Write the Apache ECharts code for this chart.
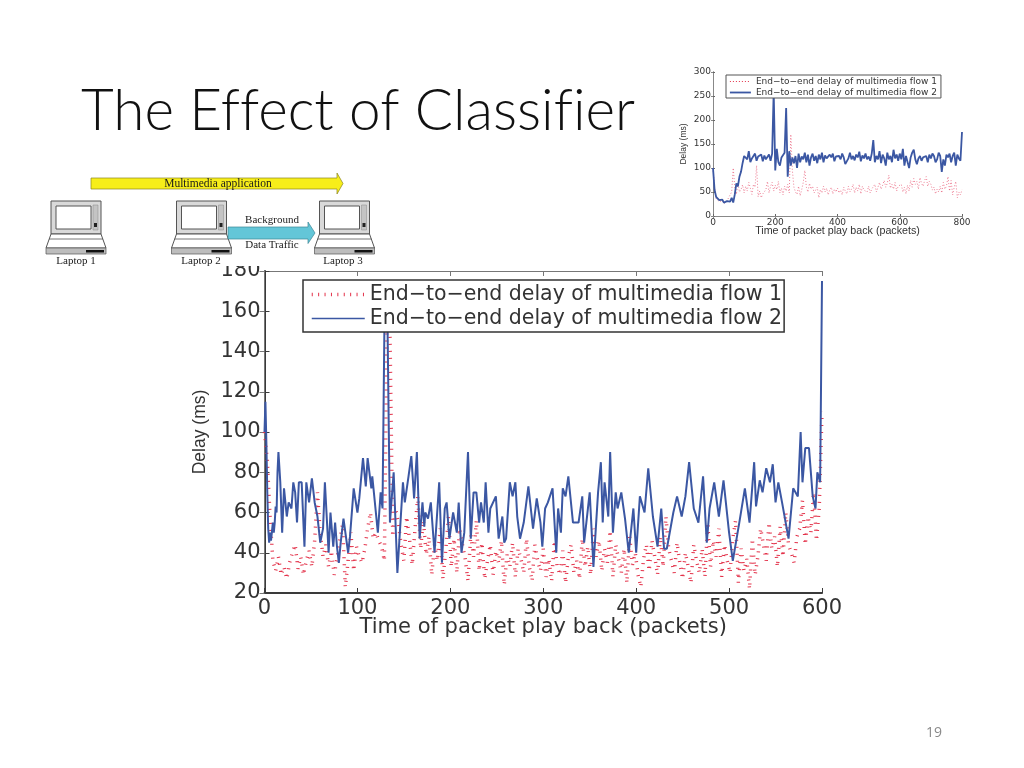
<!DOCTYPE html>
<html><head><meta charset="utf-8">
<style>html,body{margin:0;padding:0;background:#fff}#c{width:1024px;height:768px}</style>
<script src="https://cdn.jsdelivr.net/npm/echarts@6/dist/echarts.min.js"></script>
</head><body><div id="c"></div>
<script>
const legendNames = ['End\u2212to\u2212end delay of multimedia flow 1','End\u2212to\u2212end delay of multimedia flow 2'];
const mainTicksX = [0,100,200,300,400,500,600];
const mainFlow1Step = 3;
const mainFlow1 = [
100,86,58,36,31,38,29,33,27,35,40,44,32,38,29,36,41,33,46,70,
50,38,44,33,41,29,37,46,54,23,36,50,31,43,38,35,42,52,60,47,
50,46,43,36,160,150,48,62,55,44,36,58,47,34,52,68,42,56,39,48,
29,44,36,52,27,41,58,33,47,30,52,44,37,26,49,38,56,31,45,27,
36,44,29,41,35,46,24,39,33,45,28,42,37,30,47,33,26,44,36,31,
42,28,37,26,46,33,29,41,25,38,44,30,36,27,47,33,43,29,52,38,
46,31,42,35,51,28,44,37,30,42,25,48,34,40,29,23,37,44,31,46,
38,29,48,33,58,42,36,30,45,35,27,40,33,25,44,36,30,42,28,55,
33,46,38,52,28,44,36,30,47,56,25,42,31,37,22,47,29,38,52,44,
36,55,42,48,33,53,38,60,44,40,35,48,52,66,44,58,50,70,46,62,
110];
const mainFlow2X = [0,1,2,3,4,5,6,7,9,10,11,12,13,14,15,17,19,21,24,26,29,31,33,35,37,40,43,45,48,51,54,57,60,63,65,69,71,74,76,78,80,82,85,90,92,96,100,102,106,109,111,115,116,122,125,127,129,132,135,139,143,149,151,155,158,161,164,167,170,172,173,176,179,183,188,191,194,196,199,203,207,209,212,215,219,222,225,228,231,233,236,238,241,243,249,252,256,258,260,264,267,270,272,275,279,284,289,293,297,299,302,305,310,314,316,319,321,324,327,332,338,342,344,350,354,359,362,364,366,370,372,375,378,380,384,388,392,397,400,404,409,413,418,423,427,430,433,440,444,449,453,457,462,467,472,476,479,484,489,494,500,504,511,517,522,527,529,533,536,540,544,547,550,553,557,564,569,574,577,579,582,586,590,593,595,598,600];
const mainFlow2Y = [100,115,95,70,52,45,50,46,55,50,55,63,60,80,90,75,50,72,58,65,62,75,70,55,75,75,43,75,65,77,65,58,45,52,75,40,60,43,55,43,35,45,57,40,48,72,60,67,87,73,87,72,78,50,70,62,150,168,55,80,30,75,65,78,88,67,90,47,65,53,60,57,65,40,75,35,62,65,47,60,50,65,40,50,90,47,70,70,55,65,55,75,50,62,68,47,58,45,47,75,68,75,58,47,55,73,52,67,55,43,62,65,72,40,62,50,72,68,78,55,55,68,45,70,33,70,85,55,75,58,90,50,70,62,70,57,40,62,40,68,60,82,58,43,62,42,42,60,68,58,68,85,62,55,78,45,62,75,58,76,50,36,55,72,55,85,63,76,70,82,75,84,65,75,65,47,72,68,100,75,92,92,68,62,80,75,175];
const thumbTicksX = [0,200,400,600,800];
const thumbStep = 5;
const thumbFlow1 = [
100,60,36,33,30,28,32,26,29,31,38,42,50,100,60,45,70,50,55,65,
48,62,52,70,58,45,66,60,105,40,52,38,46,45,55,72,48,62,70,52,
64,55,72,48,58,44,62,52,66,48,170,95,60,50,45,62,42,55,70,95,
60,50,68,56,62,48,44,60,38,55,48,62,50,58,44,54,60,46,56,50,
58,48,54,44,60,52,46,62,50,56,66,48,60,52,66,46,62,54,58,50,
62,48,56,52,66,50,60,70,56,64,74,60,68,85,58,66,56,70,52,62,
58,66,50,60,46,64,52,74,60,78,66,72,56,80,68,62,74,82,62,72,
66,54,60,46,56,50,62,48,70,56,62,82,52,74,44,60,72,38,50,44,
55];
const thumbFlow2 = [
100,55,40,36,33,30,34,28,26,31,35,30,38,28,45,68,62,82,92,110,
125,128,118,135,112,120,118,130,115,124,120,128,114,126,118,122,128,115,130,260,
95,140,112,105,122,118,132,225,82,135,105,122,110,125,100,130,112,124,118,132,
112,128,105,122,130,115,125,110,128,118,132,112,126,120,116,128,122,130,114,124,
128,125,118,130,122,108,112,120,132,118,125,116,128,122,134,114,126,120,130,118,
124,115,130,158,112,125,118,135,110,128,120,105,132,118,125,112,138,120,128,115,
130,118,140,105,125,128,100,122,132,138,118,108,120,125,115,122,118,125,112,128,
120,130,125,112,118,132,125,92,118,105,128,122,130,112,125,132,105,128,120,115,
175];

// Title in the reference has no f-ligatures: render canvas text without them.
const origGetContext = HTMLCanvasElement.prototype.getContext;
HTMLCanvasElement.prototype.getContext = function(){
  const ctx = origGetContext.apply(this, arguments);
  if (ctx && 'textRendering' in ctx) ctx.textRendering = 'optimizeSpeed';
  return ctx;
};

const RED='#e3324a', BLUE='#3b57a3', AXIS='#3a3a3a', SANS='"Liberation Sans", Arial, sans-serif', WIDE='"DejaVu Sans", sans-serif', SERIF='"Liberation Serif", serif';
const stepped=(arr,step)=>arr.map((v,i)=>[i*step,v]);
const zipped=(xs,ys)=>xs.map((x,i)=>[x,ys[i]]);

function laptop(x,y){
  const g='#8a8a8a', lg='#d9d9d9', d='#555';
  return {type:'group',x,y,z:5,children:[
    {type:'rect',shape:{x:5,y:0,width:50,height:33},style:{fill:lg,stroke:d,lineWidth:1}},
    {type:'rect',shape:{x:10,y:5,width:35,height:23},style:{fill:'#fff',stroke:d,lineWidth:1}},
    {type:'rect',shape:{x:47,y:4,width:5,height:25},style:{fill:'#c4c4c4',stroke:g,lineWidth:.5}},
    {type:'rect',shape:{x:48,y:22,width:3,height:4},style:{fill:'#222'}},
    {type:'polygon',shape:{points:[[5,33],[55,33],[60,47],[0,47]]},style:{fill:'#fff',stroke:d,lineWidth:1}},
    {type:'line',shape:{x1:3,y1:38,x2:57,y2:38},style:{stroke:d,lineWidth:.8}},
    {type:'rect',shape:{x:0,y:47,width:60,height:6},style:{fill:'#bdbdbd',stroke:d,lineWidth:.7}},
    {type:'rect',shape:{x:40,y:49,width:18,height:2.5},style:{fill:'#111'}}
  ]};
}
const label=(text,x,y,size,font)=>({type:'text',x,y,z:60,style:{text,fill:'#1a1a1a',font:size+'px '+font,align:'center',verticalAlign:'middle'}});

const chart=echarts.init(document.getElementById('c'),null,{renderer:'canvas'});
const mainAxisCommon={min:0,max:600,interval:100};
chart.setOption({
  animation:false,
  backgroundColor:'#fff',
  grid:[
    {left:264.5,top:271,width:557.5,height:322,show:false},
    {left:713,top:72,width:249,height:144,show:false}
  ],
  legend:[
    {data:[{name:legendNames[0],lineStyle:{width:3.5,type:[1,5.4],color:RED}},{name:legendNames[1],lineStyle:{width:1.6,color:BLUE}}],
     orient:'vertical',left:303,top:280,itemGap:3,itemWidth:53,itemHeight:22,padding:[4,2,3,7],
     backgroundColor:'#fff',borderColor:'#333',borderWidth:1.5,itemStyle:{opacity:0},
     textStyle:{fontFamily:WIDE,fontSize:20.5,color:'#333'},selectedMode:false},
    {data:[{name:legendNames[0],lineStyle:{width:1,type:[1,2],color:RED}},{name:legendNames[1],lineStyle:{width:1.8,color:BLUE}}],
     orient:'vertical',left:726,top:75,itemGap:2,itemWidth:21,itemHeight:10,padding:[2,4,1,3],
     backgroundColor:'#fff',borderColor:'#555',borderWidth:1,itemStyle:{opacity:0},
     textStyle:{fontFamily:WIDE,fontSize:9,color:'#333'},selectedMode:false}
  ],
  xAxis:[
    {type:'value',gridIndex:0,...mainAxisCommon,position:'bottom',name:'Time of packet play back (packets)',nameLocation:'middle',nameGap:24,nameMoveOverlap:false,
     nameTextStyle:{fontFamily:WIDE,fontSize:21,color:'#333'},
     axisLine:{lineStyle:{color:AXIS,width:2}},axisTick:{inside:true,length:5,lineStyle:{color:AXIS}},
     axisLabel:{fontFamily:WIDE,fontSize:21,color:'#333',margin:5,customValues:mainTicksX},splitLine:{show:false}},
    {type:'value',gridIndex:0,...mainAxisCommon,position:'top',axisLine:{lineStyle:{color:'#777',width:1}},axisTick:{inside:true,length:5,lineStyle:{color:'#777'}},axisLabel:{show:false},splitLine:{show:false}},
    {type:'value',gridIndex:1,min:0,max:800,interval:200,position:'bottom',name:'Time of packet play back (packets)',nameLocation:'middle',nameGap:10,nameMoveOverlap:false,
     nameTextStyle:{fontFamily:SANS,fontSize:10.7,color:'#333'},
     axisLine:{lineStyle:{color:'#666',width:1}},axisTick:{inside:true,length:2,lineStyle:{color:'#666'}},
     axisLabel:{fontFamily:WIDE,fontSize:9,color:'#333',margin:2,customValues:thumbTicksX},splitLine:{show:false}},
    {type:'value',gridIndex:1,min:0,max:800,interval:200,position:'top',axisLine:{lineStyle:{color:'#888',width:1}},axisTick:{inside:true,length:2,lineStyle:{color:'#888'}},axisLabel:{show:false},splitLine:{show:false}}
  ],
  yAxis:[
    {type:'value',gridIndex:0,min:20,max:180,interval:20,position:'left',name:'Delay (ms)',nameLocation:'middle',nameGap:54,nameRotate:90,
     nameTextStyle:{fontFamily:SANS,fontSize:17.5,color:'#333'},
     axisLine:{lineStyle:{color:AXIS,width:2}},axisTick:{inside:true,length:5,lineStyle:{color:AXIS}},
     axisLabel:{fontFamily:WIDE,fontSize:21,color:'#333',margin:4,padding:[3,0,0,0]},splitLine:{show:false}},
    {type:'value',gridIndex:0,min:20,max:180,interval:20,position:'right',axisLine:{lineStyle:{color:'#777',width:1}},axisTick:{inside:true,length:5,lineStyle:{color:'#777'}},axisLabel:{show:false},splitLine:{show:false}},
    {type:'value',gridIndex:1,min:0,max:300,interval:50,position:'left',name:'Delay (ms)',nameLocation:'middle',nameGap:25,nameRotate:90,
     nameTextStyle:{fontFamily:SANS,fontSize:8.5,color:'#333'},
     axisLine:{lineStyle:{color:'#666',width:1}},axisTick:{inside:true,length:2,lineStyle:{color:'#666'}},
     axisLabel:{fontFamily:WIDE,fontSize:9,color:'#333',margin:2},splitLine:{show:false}},
    {type:'value',gridIndex:1,min:0,max:300,interval:50,position:'right',axisLine:{lineStyle:{color:'#888',width:1}},axisTick:{inside:true,length:2,lineStyle:{color:'#888'}},axisLabel:{show:false},splitLine:{show:false}}
  ],
  series:[
    {name:legendNames[0],type:'line',xAxisIndex:0,yAxisIndex:0,data:stepped(mainFlow1,mainFlow1Step),showSymbol:false,symbol:'none',
     lineStyle:{color:RED,width:3.5,type:[1,6],cap:'butt'},itemStyle:{color:RED},clip:true},
    {name:legendNames[1],type:'line',xAxisIndex:0,yAxisIndex:0,data:zipped(mainFlow2X,mainFlow2Y),showSymbol:false,symbol:'none',
     lineStyle:{color:BLUE,width:2},itemStyle:{color:BLUE},clip:true},
    {name:legendNames[0],type:'line',xAxisIndex:2,yAxisIndex:2,data:stepped(thumbFlow1,thumbStep),showSymbol:false,symbol:'none',
     lineStyle:{color:'#e8607a',width:.8,type:[1,2]},itemStyle:{color:RED},clip:true},
    {name:legendNames[1],type:'line',xAxisIndex:2,yAxisIndex:2,data:stepped(thumbFlow2,thumbStep),showSymbol:false,symbol:'none',
     lineStyle:{color:BLUE,width:1.8},itemStyle:{color:BLUE},clip:true}
  ],
  graphic:[
    {type:'rect',z:50,shape:{x:215,y:256,width:48,height:10},style:{fill:'#fff'}},
    {type:'text',x:81,y:112,z:60,style:{text:'The Effect of Classifier',fill:'#111',font:'300 56.6px Lato, "Open Sans", sans-serif',align:'left',verticalAlign:'middle'}},
    {type:'text',x:934,y:733,z:60,style:{text:'19',fill:'#8a8a8a',font:'14px "Open Sans", sans-serif',align:'center',verticalAlign:'middle'}},
    {type:'polygon',z:5,shape:{points:[[91,178],[337,178],[337,173],[343,183.5],[337,194],[337,189],[91,189]]},style:{fill:'#f7ee1a',stroke:'#8a8420',lineWidth:.7}},
    {type:'polygon',z:5,shape:{points:[[228,227],[308,227],[308,222],[315,233],[308,243.5],[308,239],[228,239]]},style:{fill:'#63c6d8',stroke:'#3d8797',lineWidth:.7}},
    laptop(46,201),laptop(171.5,201),laptop(314.5,201),
    label('Multimedia application',218,184,11.5,SERIF),
    label('Background',272,220,11,SERIF),
    label('Data Traffic',272,245,11,SERIF),
    label('Laptop 1',76,261,11,SERIF),
    label('Laptop 2',201,261,11,SERIF),
    label('Laptop 3',343,261,11,SERIF)
  ]
});
</script></body></html>
